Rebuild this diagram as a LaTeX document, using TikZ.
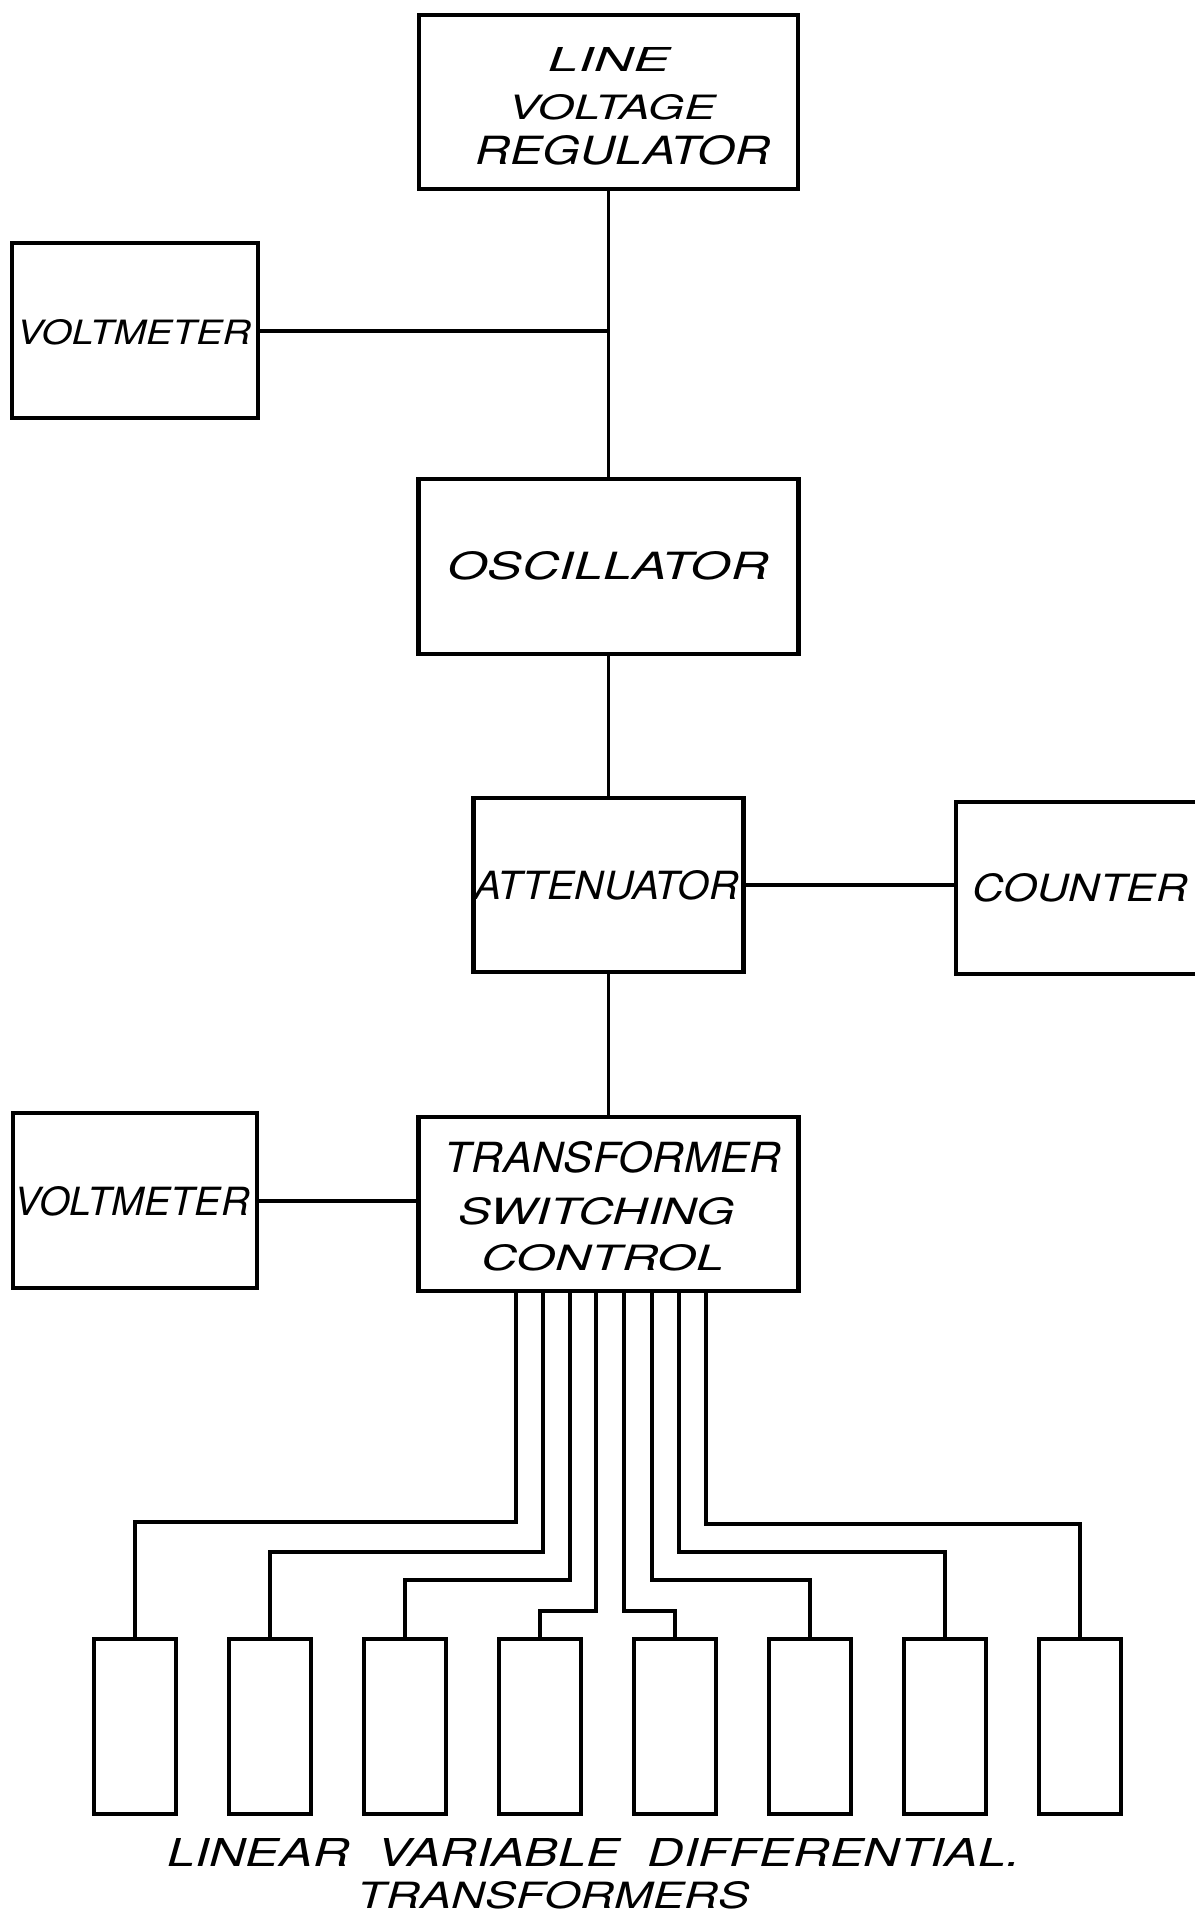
\documentclass[tikz,border=0pt]{standalone}
\usepackage{fontspec}
\setmainfont{TeX Gyre Heros}
\newcommand\hw[3]{\resizebox{#1pt}{#2pt}{\itshape #3}}
\begin{document}
\begin{tikzpicture}[x=1pt,y=-1pt,
  blk/.style={draw,line width=4.5pt,inner sep=0pt},
  lvdt/.style={draw,line width=4pt,inner sep=0pt,minimum width=82pt,minimum height=175pt},
  lbl/.style={inner sep=0pt},
  wire/.style={line width=4pt},
  thinwire/.style={line width=2.6pt}]
\useasboundingbox[fill=white] (0,0) rectangle (1194,1916);
% boxes
\node[blk,minimum width=379pt,minimum height=174pt] (lvr) at (608.5,102) {};
\node[blk,minimum width=246pt,minimum height=175pt] (vm1) at (135,330.5) {};
\node[blk,minimum width=380pt,minimum height=175pt] (osc) at (608.5,566.5) {};
\node[blk,minimum width=270pt,minimum height=174pt] (att) at (608.5,885) {};
\node[blk,minimum width=294pt,minimum height=172pt] (cnt) at (1103,888) {};
\node[blk,minimum width=244pt,minimum height=175pt] (vm2) at (135,1200.5) {};
\node[blk,minimum width=380pt,minimum height=174pt] (tsc) at (608.5,1204) {};
\foreach \i in {1,...,8}
  \node[lvdt] (lv\i) at ({134.5+135*(\i-1)},1726.5) {};
% labels
\node[lbl] (t1) at (609,60) {\hw{122}{24}{LINE}};
\node[lbl] (t2) at (612,107) {\hw{207}{25}{VOLTAGE}};
\node[lbl] (t3) at (623,150) {\hw{295}{29}{REGULATOR}};
\node[lbl] (t4) at (134,332) {\hw{234}{25}{VOLTMETER}};
\node[lbl] (t5) at (608,566) {\hw{321}{28}{OSCILLATOR}};
\node[lbl] (t6) at (607,885) {\hw{264}{29}{ATTENUATOR}};
\node[lbl] (t7) at (1080,888) {\hw{215}{28}{COUNTER}};
\node[lbl] (t8) at (613,1157) {\hw{336}{31}{TRANSFORMER}};
\node[lbl] (t9) at (597,1211) {\hw{276}{27}{SWITCHING}};
\node[lbl] (t10) at (603,1258) {\hw{243}{26}{CONTROL}};
\node[lbl] (t11) at (132,1201) {\hw{235}{29}{VOLTMETER}};
\node[lbl] (t12) at (594,1852) {\hw{853}{28}{LINEAR\hspace{0.55em}VARIABLE\hspace{0.55em}DIFFERENTIAL.}};
\node[lbl] (t13) at (554,1895) {\hw{392}{27}{TRANSFORMERS}};
% connectors
\draw[thinwire] (lvr.south) -- (osc.north);
\draw[thinwire] (osc.south) -- (att.north);
\draw[thinwire] (att.south) -- (tsc.north);
\draw[wire] (vm1.east) -- (vm1.east -| lvr.south);
\draw[wire] (att.east) -- (att.east -| cnt.west);
\draw[wire] (vm2.east) -- (vm2.east -| tsc.west);
\foreach \i/\x/\y in {1/516/1522, 2/543/1552, 3/570/1580, 4/596/1611, 5/624/1611, 6/652/1580, 7/679/1552, 8/706/1524}
  \draw[wire] (\x,0 |- tsc.south) -- (\x,\y) -| (lv\i.north);
\end{tikzpicture}
\end{document}
